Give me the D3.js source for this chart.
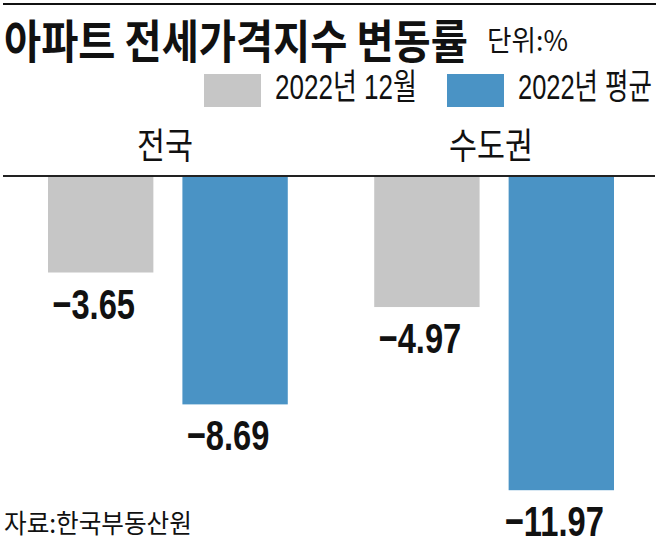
<!DOCTYPE html>
<html>
<head>
<meta charset="utf-8">
<script src="https://cdn.jsdelivr.net/npm/d3@7"></script>
<style>
  html, body { margin: 0; padding: 0; background: #fff; }
  svg { display: block; }
</style>
</head>
<body>
<script>
// ---- data ----
const categories = ["전국", "수도권"];
const seriesNames = ["2022년 12월", "2022년 평균"];
const decValues = [-3.65, -4.97];      // 2022년 12월
const avgValues = [-8.69, -11.97];     // 2022년 평균
const yDomain = [0, -12];
const titleText = "아파트 전세가격지수 변동률";
const unitText = "단위:%";
const sourceText = "자료:한국부동산원";

// ---- style ----
const W = 658, H = 545;
const colors = ["#c6c6c6", "#4a93c5"];
const KR = "'Noto Sans CJK KR', 'Noto Sans', sans-serif";
const MIX = "'Liberation Sans', 'Noto Sans CJK KR', sans-serif";
const NUM = "'Liberation Sans', Arial, sans-serif";

const svg = d3.select("body").append("svg").attr("width", W).attr("height", H);

// place a text horizontally scaled so that it spans `width` px
function fitText(sel, x, y, width, anchor) {
  const node = sel.node();
  const w = node.getComputedTextLength();
  const sx = width / w;
  sel.attr("x", 0).attr("y", 0)
    .attr("text-anchor", anchor || "start")
    .attr("transform", `translate(${x},${y}) scale(${sx},1)`);
  return sel;
}

// top rule
svg.append("line").attr("x1", 3).attr("x2", 656).attr("y1", 4).attr("y2", 4)
  .attr("stroke", "#111").attr("stroke-width", 2);

// title
fitText(svg.append("text")
  .attr("font-family", KR).attr("font-weight", 700).attr("font-size", 46)
  .attr("fill", "#111").text(titleText), 4, 58, 464);

fitText(svg.append("text")
  .attr("font-family", KR).attr("font-weight", 400).attr("font-size", 28)
  .attr("fill", "#111").text(unitText), 487, 51, 81);

// legend
const legendX = [204, 447];
const legendTextW = [142, 134];
const lg = svg.append("g");
seriesNames.forEach((name, i) => {
  lg.append("rect").attr("x", legendX[i]).attr("y", 74).attr("width", 57).attr("height", 33)
    .attr("fill", colors[i]);
  fitText(lg.append("text")
    .attr("font-family", MIX).attr("font-size", 35)
    .attr("fill", "#111").text(name), legendX[i] + 71, 99, legendTextW[i]);
});

// scales
const x0 = d3.scaleBand().domain(categories).range([48, 614]).paddingInner(0.265).paddingOuter(0);
const x1 = d3.scaleBand().domain(seriesNames).range([0, x0.bandwidth()]).paddingInner(0.216).paddingOuter(0);
const y = d3.scaleLinear().domain(yDomain).range([177, 491]);
const fmt = d3.format(".2f");

const rows = categories.map((c, i) => ({ cat: c, vals: [decValues[i], avgValues[i]] }));

// category labels
svg.append("g").selectAll("text").data(categories).join("text")
  .attr("font-family", KR).attr("font-size", 36)
  .attr("fill", "#111").text(d => d)
  .each(function (d) {
    fitText(d3.select(this), x0(d) + x0.bandwidth() / 2 - 3, 159, d.length * 28, "middle");
  });

// bars
const groups = svg.append("g").selectAll("g").data(rows).join("g")
  .attr("transform", d => `translate(${x0(d.cat)},0)`);

groups.selectAll("rect").data(d => d.vals.map((v, j) => ({ v, s: seriesNames[j], j })))
  .join("rect")
  .attr("x", d => x1(d.s))
  .attr("y", d => Math.min(y(0), y(d.v)))
  .attr("width", x1.bandwidth())
  .attr("height", d => Math.abs(y(d.v) - y(0)))
  .attr("fill", d => colors[d.j]);

groups.selectAll("text").data(d => d.vals.map((v, j) => ({ v, s: seriesNames[j], j })))
  .join("text")
  .attr("transform", d => `translate(${x1(d.s) + x1.bandwidth() / 2 - 7},${y(d.v) + 46}) scale(0.76,1)`)
  .attr("text-anchor", "middle")
  .attr("font-family", NUM).attr("font-weight", 700).attr("font-size", 43)
  .attr("fill", "#111").text(d => fmt(d.v));

// zero baseline
svg.append("line").attr("x1", 3).attr("x2", 655).attr("y1", y(0) - 1).attr("y2", y(0) - 1)
  .attr("stroke", "#222").attr("stroke-width", 2);

// source
fitText(svg.append("text")
  .attr("font-family", KR).attr("font-size", 26)
  .attr("fill", "#111").text(sourceText), 4, 533, 188);
</script>
</body>
</html>
